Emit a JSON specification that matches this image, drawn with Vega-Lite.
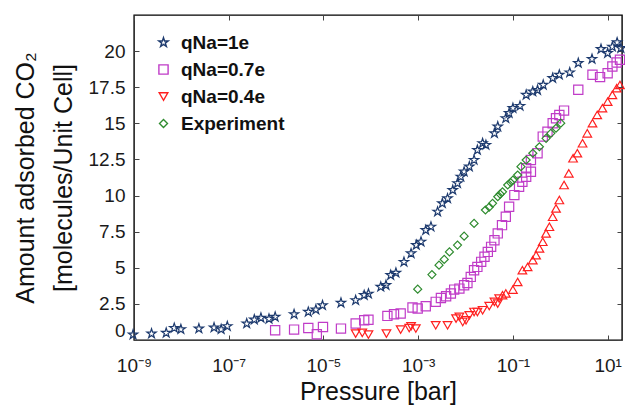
{
  "$schema": "https://vega.github.io/schema/vega-lite/v6.json",
  "autosize": "none",
  "width": 488,
  "height": 325,
  "padding": {"left": 134, "top": 15, "right": 3, "bottom": 66},
  "background": "white",
  "config": {
    "font": "Liberation Sans",
    "view": {"stroke": "#000", "strokeWidth": 1.4},
    "axis": {"grid": false, "domain": false, "labelColor": "#1a1a1a", "titleColor": "#111", "tickColor": "#444", "labelFont": "Liberation Sans", "titleFont": "Liberation Sans", "titleFontWeight": "normal"}
  },
  "data": {
    "values": [
      {"series": "qNa=1e", "pressure": 9.55e-10, "amount": 0.37},
      {"series": "qNa=1e", "pressure": 2.344e-9, "amount": 0.44},
      {"series": "qNa=1e", "pressure": 4.786e-9, "amount": 0.49},
      {"series": "qNa=1e", "pressure": 7.079e-9, "amount": 0.83},
      {"series": "qNa=1e", "pressure": 9.772e-9, "amount": 0.74},
      {"series": "qNa=1e", "pressure": 2.344e-8, "amount": 0.79},
      {"series": "qNa=1e", "pressure": 4.898e-8, "amount": 0.86},
      {"series": "qNa=1e", "pressure": 6.918e-8, "amount": 0.74},
      {"series": "qNa=1e", "pressure": 9.333e-8, "amount": 0.95},
      {"series": "qNa=1e", "pressure": 2.399e-7, "amount": 1.14},
      {"series": "qNa=1e", "pressure": 3.467e-7, "amount": 1.41},
      {"series": "qNa=1e", "pressure": 4.786e-7, "amount": 1.53},
      {"series": "qNa=1e", "pressure": 7.079e-7, "amount": 1.46},
      {"series": "qNa=1e", "pressure": 9.55e-7, "amount": 1.6},
      {"series": "qNa=1e", "pressure": 2.399e-6, "amount": 1.78},
      {"series": "qNa=1e", "pressure": 4.786e-6, "amount": 1.94},
      {"series": "qNa=1e", "pressure": 6.918e-6, "amount": 2.1},
      {"series": "qNa=1e", "pressure": 9.55e-6, "amount": 2.4},
      {"series": "qNa=1e", "pressure": 2.344e-5, "amount": 2.57},
      {"series": "qNa=1e", "pressure": 4.786e-5, "amount": 2.75},
      {"series": "qNa=1e", "pressure": 7.244e-5, "amount": 3.1},
      {"series": "qNa=1e", "pressure": 8.913e-5, "amount": 3.2},
      {"series": "qNa=1e", "pressure": 1.622e-4, "amount": 3.68},
      {"series": "qNa=1e", "pressure": 2.089e-4, "amount": 3.8},
      {"series": "qNa=1e", "pressure": 2.63e-4, "amount": 4.49},
      {"series": "qNa=1e", "pressure": 3.388e-4, "amount": 4.65},
      {"series": "qNa=1e", "pressure": 5.012e-4, "amount": 5.4},
      {"series": "qNa=1e", "pressure": 7.079e-4, "amount": 5.99},
      {"series": "qNa=1e", "pressure": 9.12e-4, "amount": 6.57},
      {"series": "qNa=1e", "pressure": 1.148e-3, "amount": 6.8},
      {"series": "qNa=1e", "pressure": 1.445e-3, "amount": 7.6},
      {"series": "qNa=1e", "pressure": 1.862e-3, "amount": 7.84},
      {"series": "qNa=1e", "pressure": 2.57e-3, "amount": 8.88},
      {"series": "qNa=1e", "pressure": 3.236e-3, "amount": 9.46},
      {"series": "qNa=1e", "pressure": 4.169e-3, "amount": 9.8},
      {"series": "qNa=1e", "pressure": 5.37e-3, "amount": 10.38},
      {"series": "qNa=1e", "pressure": 6.761e-3, "amount": 10.85},
      {"series": "qNa=1e", "pressure": 7.943e-3, "amount": 11.3},
      {"series": "qNa=1e", "pressure": 9.333e-3, "amount": 11.65},
      {"series": "qNa=1e", "pressure": 1.202e-2, "amount": 12.0},
      {"series": "qNa=1e", "pressure": 1.514e-2, "amount": 12.46},
      {"series": "qNa=1e", "pressure": 1.778e-2, "amount": 13.15},
      {"series": "qNa=1e", "pressure": 2.291e-2, "amount": 13.62},
      {"series": "qNa=1e", "pressure": 2.692e-2, "amount": 13.5},
      {"series": "qNa=1e", "pressure": 4.074e-2, "amount": 14.31},
      {"series": "qNa=1e", "pressure": 4.786e-2, "amount": 14.77},
      {"series": "qNa=1e", "pressure": 7.079e-2, "amount": 15.35},
      {"series": "qNa=1e", "pressure": 8.318e-2, "amount": 15.7},
      {"series": "qNa=1e", "pressure": 0.1, "amount": 16.05},
      {"series": "qNa=1e", "pressure": 0.1413, "amount": 16.2},
      {"series": "qNa=1e", "pressure": 0.1905, "amount": 16.97},
      {"series": "qNa=1e", "pressure": 0.263, "amount": 17.2},
      {"series": "qNa=1e", "pressure": 0.3311, "amount": 17.3},
      {"series": "qNa=1e", "pressure": 0.4365, "amount": 17.66},
      {"series": "qNa=1e", "pressure": 0.6918, "amount": 18.13},
      {"series": "qNa=1e", "pressure": 0.955, "amount": 18.36},
      {"series": "qNa=1e", "pressure": 1.585, "amount": 18.52},
      {"series": "qNa=1e", "pressure": 2.399, "amount": 19.17},
      {"series": "qNa=1e", "pressure": 4.677, "amount": 19.45},
      {"series": "qNa=1e", "pressure": 7.244, "amount": 20.14},
      {"series": "qNa=1e", "pressure": 10, "amount": 19.86},
      {"series": "qNa=1e", "pressure": 12.59, "amount": 20.3},
      {"series": "qNa=1e", "pressure": 15.85, "amount": 20.6},
      {"series": "qNa=1e", "pressure": 19.05, "amount": 20.2},

      {"series": "qNa=0.7e", "pressure": 9.55e-7, "amount": 0.67},
      {"series": "qNa=0.7e", "pressure": 2.399e-6, "amount": 0.72},
      {"series": "qNa=0.7e", "pressure": 4.786e-6, "amount": 0.83},
      {"series": "qNa=0.7e", "pressure": 7.244e-6, "amount": 0.4},
      {"series": "qNa=0.7e", "pressure": 9.772e-6, "amount": 0.9},
      {"series": "qNa=0.7e", "pressure": 2.344e-5, "amount": 0.79},
      {"series": "qNa=0.7e", "pressure": 4.786e-5, "amount": 1.14},
      {"series": "qNa=0.7e", "pressure": 7.244e-5, "amount": 1.37},
      {"series": "qNa=0.7e", "pressure": 8.913e-5, "amount": 1.4},
      {"series": "qNa=0.7e", "pressure": 2.239e-4, "amount": 1.67},
      {"series": "qNa=0.7e", "pressure": 3.09e-4, "amount": 1.78},
      {"series": "qNa=0.7e", "pressure": 4.266e-4, "amount": 1.83},
      {"series": "qNa=0.7e", "pressure": 7.586e-4, "amount": 2.25},
      {"series": "qNa=0.7e", "pressure": 9.772e-4, "amount": 2.18},
      {"series": "qNa=0.7e", "pressure": 1.445e-3, "amount": 2.34},
      {"series": "qNa=0.7e", "pressure": 2.344e-3, "amount": 2.64},
      {"series": "qNa=0.7e", "pressure": 3.02e-3, "amount": 2.91},
      {"series": "qNa=0.7e", "pressure": 3.89e-3, "amount": 3.03},
      {"series": "qNa=0.7e", "pressure": 4.898e-3, "amount": 3.22},
      {"series": "qNa=0.7e", "pressure": 5.754e-3, "amount": 3.49},
      {"series": "qNa=0.7e", "pressure": 7.413e-3, "amount": 3.56},
      {"series": "qNa=0.7e", "pressure": 9.333e-3, "amount": 3.79},
      {"series": "qNa=0.7e", "pressure": 1.096e-2, "amount": 3.95},
      {"series": "qNa=0.7e", "pressure": 1.288e-2, "amount": 4.37},
      {"series": "qNa=0.7e", "pressure": 1.514e-2, "amount": 4.83},
      {"series": "qNa=0.7e", "pressure": 1.778e-2, "amount": 5.06},
      {"series": "qNa=0.7e", "pressure": 2.138e-2, "amount": 5.41},
      {"series": "qNa=0.7e", "pressure": 2.512e-2, "amount": 5.76},
      {"series": "qNa=0.7e", "pressure": 2.951e-2, "amount": 6.1},
      {"series": "qNa=0.7e", "pressure": 3.467e-2, "amount": 6.45},
      {"series": "qNa=0.7e", "pressure": 4.074e-2, "amount": 6.91},
      {"series": "qNa=0.7e", "pressure": 4.786e-2, "amount": 7.38},
      {"series": "qNa=0.7e", "pressure": 5.888e-2, "amount": 7.95},
      {"series": "qNa=0.7e", "pressure": 7.079e-2, "amount": 8.53},
      {"series": "qNa=0.7e", "pressure": 8.318e-2, "amount": 9.22},
      {"series": "qNa=0.7e", "pressure": 0.1072, "amount": 10.03},
      {"series": "qNa=0.7e", "pressure": 0.1349, "amount": 10.61},
      {"series": "qNa=0.7e", "pressure": 0.1585, "amount": 10.96},
      {"series": "qNa=0.7e", "pressure": 0.1905, "amount": 11.3},
      {"series": "qNa=0.7e", "pressure": 0.1905, "amount": 11.89},
      {"series": "qNa=0.7e", "pressure": 0.2399, "amount": 11.65},
      {"series": "qNa=0.7e", "pressure": 0.2399, "amount": 12.46},
      {"series": "qNa=0.7e", "pressure": 0.3311, "amount": 12.93},
      {"series": "qNa=0.7e", "pressure": 0.4266, "amount": 14.08},
      {"series": "qNa=0.7e", "pressure": 0.537, "amount": 14.42},
      {"series": "qNa=0.7e", "pressure": 0.6918, "amount": 15.01},
      {"series": "qNa=0.7e", "pressure": 0.8128, "amount": 15.35},
      {"series": "qNa=0.7e", "pressure": 0.955, "amount": 15.58},
      {"series": "qNa=0.7e", "pressure": 1.202, "amount": 15.88},
      {"series": "qNa=0.7e", "pressure": 2.399, "amount": 17.32},
      {"series": "qNa=0.7e", "pressure": 4.786, "amount": 18.36},
      {"series": "qNa=0.7e", "pressure": 6.918, "amount": 18.2},
      {"series": "qNa=0.7e", "pressure": 10, "amount": 18.47},
      {"series": "qNa=0.7e", "pressure": 12.59, "amount": 18.93},
      {"series": "qNa=0.7e", "pressure": 15.49, "amount": 19.21},
      {"series": "qNa=0.7e", "pressure": 18.2, "amount": 19.4},

      {"series": "qNa=0.4e", "pressure": 4.786e-5, "amount": 0.44},
      {"series": "qNa=0.4e", "pressure": 6.607e-5, "amount": 0.49},
      {"series": "qNa=0.4e", "pressure": 8.913e-5, "amount": 0.37},
      {"series": "qNa=0.4e", "pressure": 2.138e-4, "amount": 0.44},
      {"series": "qNa=0.4e", "pressure": 4.266e-4, "amount": 0.72},
      {"series": "qNa=0.4e", "pressure": 6.457e-4, "amount": 0.83},
      {"series": "qNa=0.4e", "pressure": 7.079e-4, "amount": 0.95},
      {"series": "qNa=0.4e", "pressure": 8.913e-4, "amount": 0.79},
      {"series": "qNa=0.4e", "pressure": 2.344e-3, "amount": 1.02},
      {"series": "qNa=0.4e", "pressure": 4.169e-3, "amount": 1.02},
      {"series": "qNa=0.4e", "pressure": 6.31e-3, "amount": 1.48},
      {"series": "qNa=0.4e", "pressure": 7.413e-3, "amount": 1.6},
      {"series": "qNa=0.4e", "pressure": 8.71e-3, "amount": 1.25},
      {"series": "qNa=0.4e", "pressure": 1.023e-2, "amount": 1.37},
      {"series": "qNa=0.4e", "pressure": 1.202e-2, "amount": 1.71},
      {"series": "qNa=0.4e", "pressure": 1.514e-2, "amount": 1.94},
      {"series": "qNa=0.4e", "pressure": 1.778e-2, "amount": 1.94},
      {"series": "qNa=0.4e", "pressure": 2.291e-2, "amount": 2.06},
      {"series": "qNa=0.4e", "pressure": 3.162e-2, "amount": 2.35},
      {"series": "qNa=0.4e", "pressure": 4.074e-2, "amount": 2.64},
      {"series": "qNa=0.4e", "pressure": 4.786e-2, "amount": 2.52},
      {"series": "qNa=0.4e", "pressure": 5.129e-2, "amount": 2.87},
      {"series": "qNa=0.4e", "pressure": 6.026e-2, "amount": 3.1},
      {"series": "qNa=0.4e", "pressure": 7.079e-2, "amount": 3.22},
      {"series": "qNa=0.4e", "pressure": 0.1, "amount": 3.49},
      {"series": "qNa=0.4e", "pressure": 0.1259, "amount": 4.02},
      {"series": "qNa=0.4e", "pressure": 0.1585, "amount": 4.83},
      {"series": "qNa=0.4e", "pressure": 0.2042, "amount": 5.06},
      {"series": "qNa=0.4e", "pressure": 0.263, "amount": 5.53},
      {"series": "qNa=0.4e", "pressure": 0.309, "amount": 5.87},
      {"series": "qNa=0.4e", "pressure": 0.3631, "amount": 6.34},
      {"series": "qNa=0.4e", "pressure": 0.4266, "amount": 6.8},
      {"series": "qNa=0.4e", "pressure": 0.5012, "amount": 7.38},
      {"series": "qNa=0.4e", "pressure": 0.5888, "amount": 7.84},
      {"series": "qNa=0.4e", "pressure": 0.6918, "amount": 8.53},
      {"series": "qNa=0.4e", "pressure": 0.8128, "amount": 9.11},
      {"series": "qNa=0.4e", "pressure": 0.955, "amount": 9.69},
      {"series": "qNa=0.4e", "pressure": 1.202, "amount": 10.73},
      {"series": "qNa=0.4e", "pressure": 1.514, "amount": 11.54},
      {"series": "qNa=0.4e", "pressure": 1.862, "amount": 12.58},
      {"series": "qNa=0.4e", "pressure": 2.291, "amount": 12.93},
      {"series": "qNa=0.4e", "pressure": 2.951, "amount": 13.62},
      {"series": "qNa=0.4e", "pressure": 3.715, "amount": 14.31},
      {"series": "qNa=0.4e", "pressure": 4.786, "amount": 15.01},
      {"series": "qNa=0.4e", "pressure": 6.026, "amount": 15.58},
      {"series": "qNa=0.4e", "pressure": 7.762, "amount": 16.05},
      {"series": "qNa=0.4e", "pressure": 10, "amount": 16.5},
      {"series": "qNa=0.4e", "pressure": 12.59, "amount": 16.97},
      {"series": "qNa=0.4e", "pressure": 15.49, "amount": 17.43},
      {"series": "qNa=0.4e", "pressure": 18.2, "amount": 17.66},

      {"series": "Experiment", "pressure": 9.772e-4, "amount": 3.52},
      {"series": "Experiment", "pressure": 1.95e-3, "amount": 4.53},
      {"series": "Experiment", "pressure": 2.754e-3, "amount": 5.18},
      {"series": "Experiment", "pressure": 3.548e-3, "amount": 5.58},
      {"series": "Experiment", "pressure": 4.571e-3, "amount": 6.1},
      {"series": "Experiment", "pressure": 6.761e-3, "amount": 6.57},
      {"series": "Experiment", "pressure": 9.333e-3, "amount": 7.19},
      {"series": "Experiment", "pressure": 1.514e-2, "amount": 8.07},
      {"series": "Experiment", "pressure": 2.63e-2, "amount": 9.0},
      {"series": "Experiment", "pressure": 3.162e-2, "amount": 9.2},
      {"series": "Experiment", "pressure": 3.715e-2, "amount": 9.46},
      {"series": "Experiment", "pressure": 4.786e-2, "amount": 9.92},
      {"series": "Experiment", "pressure": 5.37e-2, "amount": 10.1},
      {"series": "Experiment", "pressure": 6.026e-2, "amount": 10.26},
      {"series": "Experiment", "pressure": 7.762e-2, "amount": 10.73},
      {"series": "Experiment", "pressure": 8.913e-2, "amount": 10.9},
      {"series": "Experiment", "pressure": 0.1, "amount": 11.07},
      {"series": "Experiment", "pressure": 0.1259, "amount": 11.42},
      {"series": "Experiment", "pressure": 0.1479, "amount": 12.0},
      {"series": "Experiment", "pressure": 0.1905, "amount": 12.46},
      {"series": "Experiment", "pressure": 0.263, "amount": 12.93},
      {"series": "Experiment", "pressure": 0.3631, "amount": 13.38},
      {"series": "Experiment", "pressure": 0.5012, "amount": 13.96},
      {"series": "Experiment", "pressure": 0.631, "amount": 14.31},
      {"series": "Experiment", "pressure": 0.8128, "amount": 14.66},
      {"series": "Experiment", "pressure": 1.023, "amount": 15.01}
    ]
  },
  "layer": [
    {
      "mark": {"type": "point", "filled": false, "strokeWidth": 1.2, "opacity": 1},
      "encoding": {
        "x": {
          "field": "pressure", "type": "quantitative",
          "scale": {"type": "log", "domain": [1e-9, 20.1], "nice": false},
          "axis": {
            "orient": "bottom",
            "title": "Pressure [bar]", "titleFontSize": 25, "titlePadding": 4,
            "values": [1e-9, 1e-7, 1e-5, 1e-3, 1e-1, 10],
            "labelExpr": "datum.value < 1e-8 ? '10⁻⁹' : datum.value < 1e-6 ? '10⁻⁷' : datum.value < 1e-4 ? '10⁻⁵' : datum.value < 1e-2 ? '10⁻³' : datum.value < 1 ? '10⁻¹' : '10¹'",
            "labelFontSize": 19, "labelPadding": 21, "labelFlush": false,
            "ticks": true, "tickSize": -5, "tickWidth": 1
          }
        },
        "y": {
          "field": "amount", "type": "quantitative",
          "scale": {"domain": [0, 22.5], "nice": false, "zero": false},
          "axis": {
            "orient": "left",
            "title": ["Amount adsorbed CO₂", "[molecules/Unit Cell]"],
            "titleFontSize": 25, "titleLineHeight": 38, "titlePadding": 12,
            "values": [0, 2.5, 5, 7.5, 10, 12.5, 15, 17.5, 20],
            "format": ".1~f",
            "labelFontSize": 19, "labelPadding": 14, "labelFlush": true,
            "ticks": true, "tickSize": -5, "tickWidth": 1
          }
        },
        "color": {
          "field": "series", "type": "nominal",
          "scale": {"domain": ["qNa=1e", "qNa=0.7e", "qNa=0.4e", "Experiment"], "range": ["#1d3a6e", "#c03cc8", "#ff2020", "#2e8b2e"]},
          "legend": {
            "title": null, "orient": "none", "legendX": 20, "legendY": 18,
            "labelFontSize": 19, "labelFontWeight": "bold", "labelColor": "#111", "labelOffset": 8,
            "symbolSize": 40, "symbolStrokeWidth": 1.4, "rowPadding": 7, "padding": 0
          }
        },
        "shape": {
          "field": "series", "type": "nominal",
          "scale": {"domain": ["qNa=1e", "qNa=0.7e", "qNa=0.4e", "Experiment"], "range": ["M0,-1L0.2245,-0.309L0.951,-0.309L0.363,0.118L0.588,0.809L0,0.382L-0.588,0.809L-0.363,0.118L-0.951,-0.309L-0.2245,-0.309Z", "square", "triangle-down", "diamond"]},
          "condition": {"test": "datum.series === 'qNa=0.4e' && datum.amount > 3", "value": "triangle-up"},
          "legend": null
        },
        "size": {
          "field": "series", "type": "nominal",
          "scale": {"domain": ["qNa=1e", "qNa=0.7e", "qNa=0.4e", "Experiment"], "range": [95, 64, 72, 62]},
          "legend": null
        }
      }
    },
    {
      "mark": {"type": "point", "opacity": 0},
      "encoding": {
        "x": {
          "field": "pressure", "type": "quantitative",
          "axis": {"orient": "top", "title": null, "labels": false, "values": [1e-9, 1e-7, 1e-5, 1e-3, 1e-1, 10], "tickSize": -5, "tickWidth": 1}
        },
        "y": {
          "field": "amount", "type": "quantitative",
          "axis": {"orient": "right", "title": null, "labels": false, "values": [0, 2.5, 5, 7.5, 10, 12.5, 15, 17.5, 20], "tickSize": -5, "tickWidth": 1}
        }
      }
    }
  ],
  "resolve": {"axis": {"x": "independent", "y": "independent"}}
}
